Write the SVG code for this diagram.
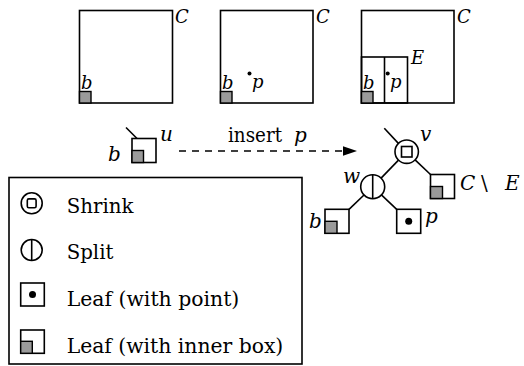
<svg xmlns="http://www.w3.org/2000/svg" width="524" height="366" viewBox="0 0 524 366">
<style>
.o{fill:none;stroke:#000;stroke-width:1.6}
.w{fill:#fff;stroke:#000;stroke-width:1.6}
.g{fill:#9a9a9a;stroke:#000;stroke-width:1.4}
.ln{stroke:#000;stroke-width:1.6;fill:none}
text{font-family:'DejaVu Serif','Liberation Serif',serif;fill:#000}
.i{font-style:italic}
</style>
<rect width="524" height="366" fill="#fff"/>
<g id="panel-1">
<rect class="o" x="79.5" y="10.5" width="93" height="92.5"/>
<rect class="g" x="79.5" y="91.5" width="11.5" height="11.5"/>
<text class="i" x="81" y="88.5" font-size="18">b</text>
<text class="i" x="175" y="22.5" font-size="18">C</text>
</g>
<g id="panel-2">
<rect class="o" x="220.5" y="10.5" width="92.5" height="92.5"/>
<rect class="g" x="220.5" y="91.5" width="11.5" height="11.5"/>
<text class="i" x="222" y="88.5" font-size="18">b</text>
<circle cx="249.5" cy="73.5" r="2" fill="#000"/>
<text class="i" x="252" y="88" font-size="18">p</text>
<text class="i" x="316" y="22.5" font-size="18">C</text>
</g>
<g id="panel-3">
<rect class="o" x="361.5" y="10.5" width="92.5" height="92.5"/>
<rect class="o" x="361.5" y="57" width="46" height="46"/>
<line class="ln" x1="384.5" y1="57" x2="384.5" y2="103"/>
<rect class="g" x="361.5" y="91.5" width="11.5" height="11.5"/>
<text class="i" x="363" y="88.5" font-size="18">b</text>
<circle cx="387.7" cy="73.5" r="2" fill="#000"/>
<text class="i" x="390" y="88" font-size="18">p</text>
<text class="i" x="411" y="63.5" font-size="18">E</text>
<text class="i" x="457" y="22.5" font-size="18">C</text>
</g>
<g id="node-u">
<line class="ln" x1="126" y1="127.5" x2="137" y2="138.5"/>
<rect class="w" x="132" y="138.5" width="24" height="24"/>
<rect class="g" x="132" y="150.5" width="11.5" height="12"/>
<text class="i" x="108" y="161" font-size="20">b</text>
<text class="i" x="160" y="141" font-size="20">u</text>
</g>
<g id="connectors">
<line x1="179" y1="151" x2="344" y2="151" stroke="#000" stroke-width="1.6" stroke-dasharray="7 6"/>
<polygon points="357,151 343,146.3 343,155.7" fill="#000"/>
<line class="ln" x1="384.3" y1="128.3" x2="398.4" y2="143.4"/>
<line class="ln" x1="398.5" y1="160.1" x2="381.1" y2="178.1"/>
<line class="ln" x1="415.1" y1="159.8" x2="430.5" y2="174.5"/>
<line class="ln" x1="364" y1="195" x2="349" y2="209.3"/>
<line class="ln" x1="381.4" y1="194.9" x2="396.7" y2="209.3"/>
</g>
<g id="label-insert">
<text x="228" y="141.5" font-size="20" textLength="54" lengthAdjust="spacingAndGlyphs">insert</text>
<text class="i" x="294" y="141.5" font-size="20">p</text>
</g>
<g id="node-v">
<circle class="w" cx="406.7" cy="151.7" r="11.7"/>
<rect class="o" x="401.5" y="146.5" width="10.5" height="10.5"/>
<text class="i" x="420" y="140.5" font-size="20">v</text>
</g>
<g id="node-w">
<circle class="w" cx="372.7" cy="186.7" r="12"/>
<line class="ln" x1="372.7" y1="174.7" x2="372.7" y2="198.7"/>
<text class="i" x="343" y="183" font-size="20">w</text>
</g>
<g id="leaf-CE">
<rect class="w" x="430.5" y="174.5" width="24" height="24"/>
<rect class="g" x="430.5" y="186.5" width="12" height="12"/>
<text class="i" x="460" y="190" font-size="20">C</text>
<text x="481" y="190" font-size="20">\</text>
<text class="i" x="505" y="190" font-size="20">E</text>
</g>
<g id="leaf-b">
<rect class="w" x="325" y="209.3" width="24" height="24"/>
<rect class="g" x="325" y="221.3" width="12" height="12"/>
<text class="i" x="309" y="228" font-size="20">b</text>
</g>
<g id="leaf-p">
<rect class="w" x="396.7" y="209.3" width="24" height="24"/>
<circle cx="408.7" cy="221.3" r="3.5" fill="#000"/>
<text class="i" x="425" y="223" font-size="20">p</text>
</g>
<g id="legend">
<rect class="o" x="9" y="177.5" width="293" height="186.5"/>
<circle class="o" cx="31.7" cy="203.3" r="10.5"/>
<rect class="o" x="27.3" y="198.9" width="8.8" height="8.8" rx="1.5"/>
<text x="66.7" y="212.7" font-size="21" textLength="66.7" lengthAdjust="spacingAndGlyphs">Shrink</text>
<circle class="o" cx="31.7" cy="250" r="10.5"/>
<line class="ln" x1="31.7" y1="239.5" x2="31.7" y2="260.5"/>
<text x="66.7" y="259.3" font-size="21" textLength="46.7" lengthAdjust="spacingAndGlyphs">Split</text>
<rect class="o" x="20.7" y="283" width="23.6" height="23"/>
<circle cx="32.5" cy="294.5" r="3.5" fill="#000"/>
<text x="66.7" y="306" font-size="21" textLength="172.6" lengthAdjust="spacingAndGlyphs">Leaf (with point)</text>
<rect class="o" x="20.7" y="330" width="23.6" height="23.3"/>
<rect class="g" x="20.7" y="341.3" width="11.6" height="12"/>
<text x="66.7" y="353.3" font-size="21" textLength="216.6" lengthAdjust="spacingAndGlyphs">Leaf (with inner box)</text>
</g>
</svg>
